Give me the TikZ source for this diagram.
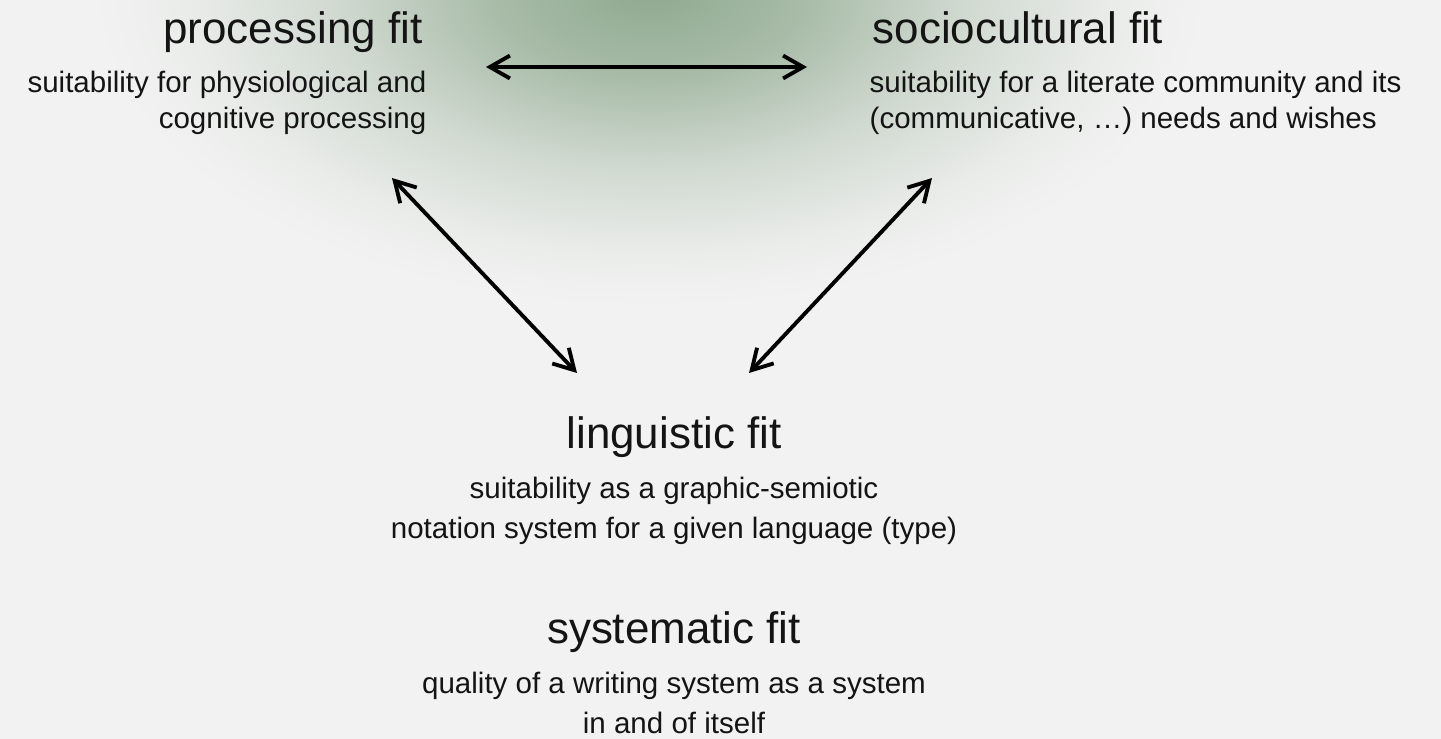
\documentclass[tikz,border=0pt]{standalone}
\usepackage{fontspec}
\setmainfont{Liberation Sans}
\usetikzlibrary{arrows.meta}
\definecolor{bggray}{HTML}{F2F2F2}
\definecolor{glowgreen}{HTML}{8FA98F}
\definecolor{inkgray}{HTML}{141414}
\pgfdeclareradialshading{glow}{\pgfpoint{0bp}{0bp}}{color(0bp)=(glowgreen); color(2.5bp)=(glowgreen!75!bggray); color(5bp)=(glowgreen!35!bggray); color(7.5bp)=(glowgreen!8!bggray); color(9bp)=(bggray); color(50bp)=(bggray)}
\tikzset{
	fittitle/.style={inner sep=0pt, text=inkgray, font=\fontsize{12.5}{15}\selectfont},
	fitnote/.style={inner sep=0pt, text=inkgray, font=\fontsize{8.4}{10.3}\selectfont},
	fitnotewide/.style={fitnote, font=\fontsize{8.4}{11.5}\selectfont},
	link/.style={{Straight Barb[length=5.7pt,width=6.5pt]}-{Straight Barb[length=5.7pt,width=6.5pt]}, line width=1.1pt, line cap=round}
}
\begin{document}
\begin{tikzpicture}
\fill [bggray] (0,0) rectangle (14.41,-7.38);
\begin{scope}
\clip (0,0) rectangle (14.41,-7.38);
\shade [shading=glow, shift={(6.5,0.1)}, xscale=1.55, yscale=0.88] (0,0) circle (10);
\end{scope}
\useasboundingbox (0,0) rectangle (14.41,-7.38);
%
\node [fittitle, anchor=base east] (proc) at (4.23,-0.43) {processing fit};
\node [fitnote, anchor=north east, align=right] (procnote) at (4.27,-0.70) {suitability for physiological and\\cognitive processing};
\node [fittitle, anchor=base west] (socio) at (8.72,-0.43) {sociocultural fit};
\node [fitnote, anchor=north west, align=left] (socionote) at (8.69,-0.70) {suitability for a literate community and its\\(communicative, \dots) needs and wishes};
\node [fittitle, anchor=base] (ling) at (6.74,-4.48) {linguistic fit};
\node [fitnotewide, anchor=north, align=center] (lingnote) at (6.74,-4.76) {suitability as a graphic-semiotic\\notation system for a given language (type)};
\node [fittitle, anchor=base] (sys) at (6.74,-6.43) {systematic fit};
\node [fitnotewide, anchor=north, align=center] (sysnote) at (6.74,-6.71) {quality of a writing system as a system\\in and of itself};
%
\coordinate (procR) at (4.86,-0.67);
\coordinate (socioL) at (8.07,-0.67);
\coordinate (procD) at (3.92,-1.78);
\coordinate (lingL) at (5.77,-3.73);
\coordinate (socioD) at (9.32,-1.78);
\coordinate (lingR) at (7.49,-3.73);
\draw [link] (procR) -- (socioL);
\draw [link] (procD) -- (lingL);
\draw [link] (socioD) -- (lingR);
\end{tikzpicture}
\end{document}
